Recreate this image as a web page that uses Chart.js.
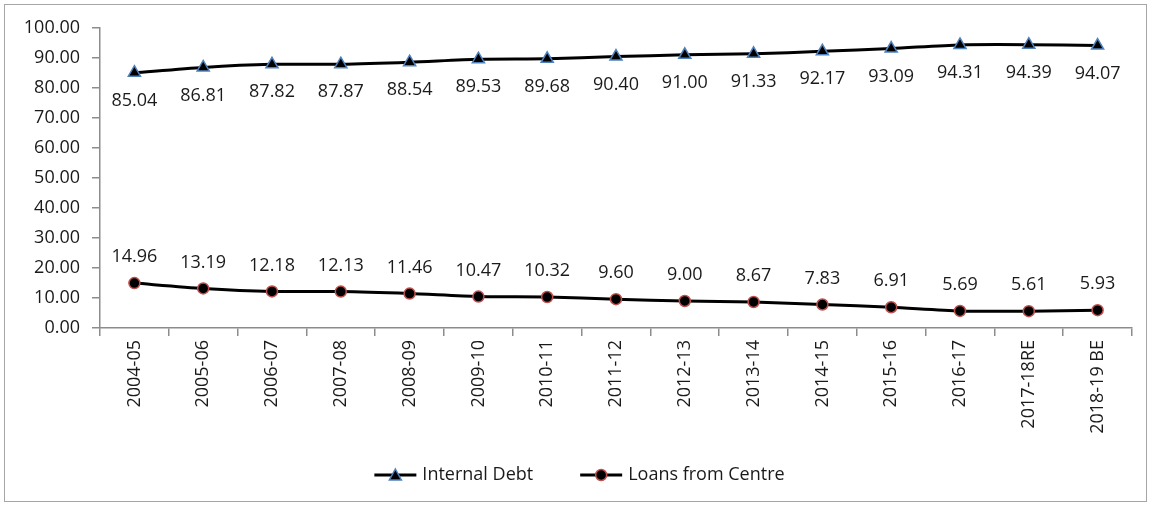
<!DOCTYPE html>
<html>
<head>
<meta charset="utf-8">
<script src="https://cdn.jsdelivr.net/npm/chart.js@4.4.1/dist/chart.umd.min.js"></script>
<style>
  html, body { margin: 0; padding: 0; background: #fff; }
  .frame {
    position: absolute; left: 4px; top: 4px;
    width: 1143px; height: 498px;
    border: 1px solid #a6a6a6; box-sizing: border-box;
  }
  .frame canvas { display: block; }
</style>
</head>
<body>
<div class="frame"><canvas id="debtChart" width="1141" height="496"></canvas></div>
<script>
(function () {
    'use strict';

    // ---------------------------------------------------------------
    // Data
    // ---------------------------------------------------------------
    const years = [
        '2004-05', '2005-06', '2006-07', '2007-08', '2008-09', '2009-10',
        '2010-11', '2011-12', '2012-13', '2013-14', '2014-15', '2015-16',
        '2016-17', '2017-18RE', '2018-19 BE'
    ];
    const internalDebt = [
        85.04, 86.81, 87.82, 87.87, 88.54, 89.53, 89.68, 90.40,
        91.00, 91.33, 92.17, 93.09, 94.31, 94.39, 94.07
    ];
    const loansFromCentre = [
        14.96, 13.19, 12.18, 12.13, 11.46, 10.47, 10.32, 9.60,
        9.00, 8.67, 7.83, 6.91, 5.69, 5.61, 5.93
    ];

    const FONT = "'Open Sans', 'Noto Sans', sans-serif";
    const SIZE = 18;
    const TEXT = '#1a1a1a';
    const AXIS = '#8c8c8c';

    // Marker shapes, shared by the legend
    function drawMarker(g, shape, x, y, fill, stroke) {
        g.fillStyle = fill;
        g.strokeStyle = stroke;
        g.lineWidth = 1.5;
        g.beginPath();
        if (shape === 'triangle') {
            g.moveTo(x, y - 6); g.lineTo(x + 6, y + 5); g.lineTo(x - 6, y + 5); g.closePath();
        } else {
            g.arc(x, y, 5.5, 0, Math.PI * 2);
        }
        g.fill(); g.stroke();
    }

    // Value labels: below the points for the first series, above for the second
    const valueLabels = {
        id: 'valueLabels',
        afterDatasetsDraw(chart) {
            const ctx = chart.ctx;
            ctx.save();
            ctx.font = SIZE + 'px ' + FONT;
            ctx.fillStyle = TEXT;
            ctx.textAlign = 'center';
            ctx.textBaseline = 'middle';
            chart.data.datasets.forEach(function (ds, i) {
                const meta = chart.getDatasetMeta(i);
                const dy = i === 0 ? 28 : -26;
                meta.data.forEach(function (pt, j) {
                    ctx.fillText(ds.data[j].toFixed(2), pt.x, pt.y + dy);
                });
            });
            ctx.restore();
        }
    };

    // Bottom legend: line + marker swatch, then the series name
    const lineLegend = {
        id: 'lineLegend',
        afterDraw(chart) {
            const ctx = chart.ctx;
            const SW = 42, GAP = 6, ITEM_GAP = 47;
            const y = chart.height - 26;
            ctx.save();
            ctx.font = SIZE + 'px ' + FONT;
            const items = chart.data.datasets.map(function (ds) {
                return { ds: ds, w: ctx.measureText(ds.label).width };
            });
            let total = 0;
            items.forEach(function (it, i) {
                total += SW + GAP + it.w + (i ? ITEM_GAP : 0);
            });
            let x = chart.width / 2 - total / 2 + 4;
            items.forEach(function (it) {
                ctx.strokeStyle = '#000';
                ctx.lineWidth = 3;
                ctx.beginPath(); ctx.moveTo(x, y); ctx.lineTo(x + SW, y); ctx.stroke();
                drawMarker(ctx, it.ds.pointStyle, x + SW / 2, y,
                           it.ds.pointBackgroundColor, it.ds.pointBorderColor);
                ctx.fillStyle = TEXT;
                ctx.textAlign = 'left';
                ctx.textBaseline = 'middle';
                ctx.fillText(it.ds.label, x + SW + GAP, y);
                x += SW + GAP + it.w + ITEM_GAP;
            });
            ctx.restore();
        }
    };

    new Chart(document.getElementById('debtChart'), {
        type: 'line',
        data: {
            labels: years,
            datasets: [
                {
                    label: 'Internal Debt',
                    data: internalDebt,
                    borderColor: '#000',
                    borderWidth: 3,
                    tension: 0.25,
                    pointStyle: 'triangle',
                    pointRadius: 7,
                    pointBackgroundColor: '#000',
                    pointBorderColor: '#4f81bd',
                    pointBorderWidth: 1.5
                },
                {
                    label: 'Loans from Centre',
                    data: loansFromCentre,
                    borderColor: '#000',
                    borderWidth: 3,
                    tension: 0.25,
                    pointStyle: 'circle',
                    pointRadius: 5.5,
                    pointBackgroundColor: '#000',
                    pointBorderColor: '#c0504d',
                    pointBorderWidth: 1.5
                }
            ]
        },
        options: {
            responsive: false,
            animation: false,
            layout: { padding: { top: 22, right: 14, left: 4, bottom: 46 } },
            plugins: {
                tooltip: { enabled: false },
                legend: { display: false }
            },
            scales: {
                x: {
                    offset: true,
                    border: { color: AXIS, width: 1.5 },
                    grid: {
                        offset: true,
                        drawOnChartArea: false,
                        drawTicks: true,
                        tickLength: 8,
                        color: AXIS,
                        lineWidth: 1.5
                    },
                    ticks: {
                        minRotation: 90,
                        maxRotation: 90,
                        autoSkip: false,
                        color: TEXT,
                        padding: 4,
                        font: { family: FONT, size: SIZE }
                    },
                    afterFit: function (scale) { scale.height = 127; }
                },
                y: {
                    min: 0,
                    max: 100,
                    border: { color: AXIS, width: 1.5 },
                    grid: {
                        drawOnChartArea: false,
                        drawTicks: true,
                        tickLength: 8,
                        color: AXIS,
                        lineWidth: 1.5
                    },
                    ticks: {
                        stepSize: 10,
                        color: TEXT,
                        padding: 12,
                        font: { family: FONT, size: SIZE },
                        callback: function (v) { return Number(v).toFixed(2); }
                    },
                    afterFit: function (scale) { scale.width = 91; }
                }
            }
        },
        plugins: [valueLabels, lineLegend]
    });
})();
</script>
</body>
</html>
